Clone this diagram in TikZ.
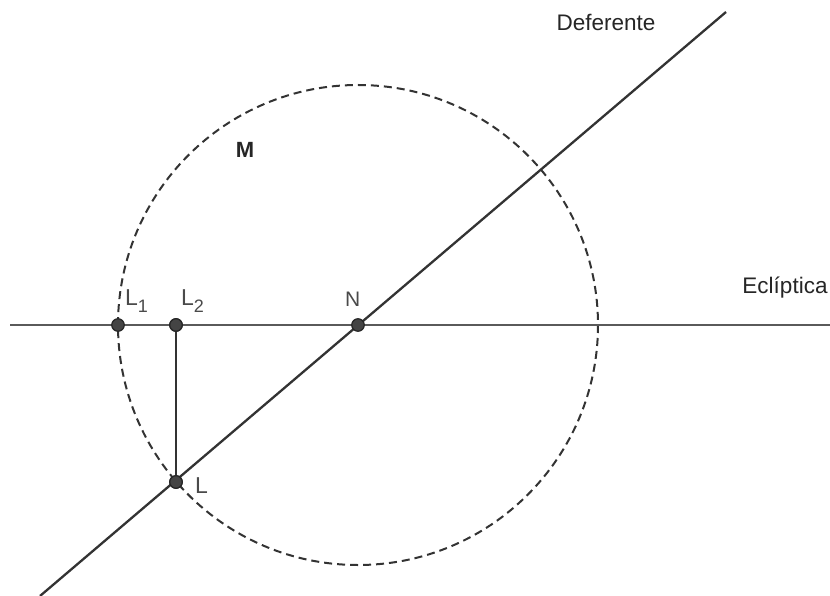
\documentclass[tikz,border=0pt]{standalone}
\usepackage{fontspec}
\setmainfont{Liberation Sans}
\definecolor{lineA}{HTML}{333333}
\definecolor{lineB}{HTML}{5A5A5A}
\definecolor{ptfill}{HTML}{444444}
\definecolor{lbl}{HTML}{4A4A4A}
\newcommand{\lsub}[1]{\raisebox{-7pt}{\fontsize{18}{20}\selectfont #1}}
\begin{document}
\begin{tikzpicture}[x=1pt,y=-1pt,
  pt/.style={circle,fill=ptfill,draw=black!85,line width=1.2pt,inner sep=0pt,minimum size=12.5pt},
  ptlabel/.style={font=\fontsize{23}{26}\selectfont,text=lbl,inner sep=0pt,anchor=base west},
  txt/.style={font=\fontsize{22.5}{26}\selectfont,text=black!85,inner sep=0pt}]
\useasboundingbox (0,0) rectangle (830,596);
\fill[white] (0,0) rectangle (830,596);
% key points
\coordinate (N) at (358,325);
\coordinate (Ecl0) at (10,325);
\coordinate (Ecl1) at (830,325);
\coordinate (D0) at (40,596);
\coordinate (D1) at (726,12);
% circle
\draw[lineA,line width=2pt,dash pattern=on 8pt off 5pt] (N) circle[radius=240];
% lines
\draw[lineB,line width=2.6pt] (Ecl0) -- (Ecl1);
\draw[lineA,line width=2.3pt] (D0) -- (D1);
% points
\node[pt] (l1) at (118,325) {};
\node[pt] (l2) at (176,325) {};
\node[pt] (n) at (N) {};
\node[pt] (l) at (176,482) {};
\draw[lineA,line width=2.3pt] (l2) -- (l);
\node[pt] at (l2) {};
\node[pt] at (l) {};
% labels
\node[ptlabel] (tl1) at (125,305) {L\lsub{1}};
\node[ptlabel] (tl2) at (181,305) {L\lsub{2}};
\node[ptlabel,font=\fontsize{21}{24}\selectfont] (tn) at (345,306) {N};
\node[ptlabel] (tl) at (195,493) {L};
\node[txt] (tdef) at (606,22) {Deferente};
\node[txt] (tecl) at (785,288) {Eclíptica};
\node[txt,font=\fontsize{22}{24}\selectfont\bfseries] (tm) at (245,150) {M};
\end{tikzpicture}
\end{document}
